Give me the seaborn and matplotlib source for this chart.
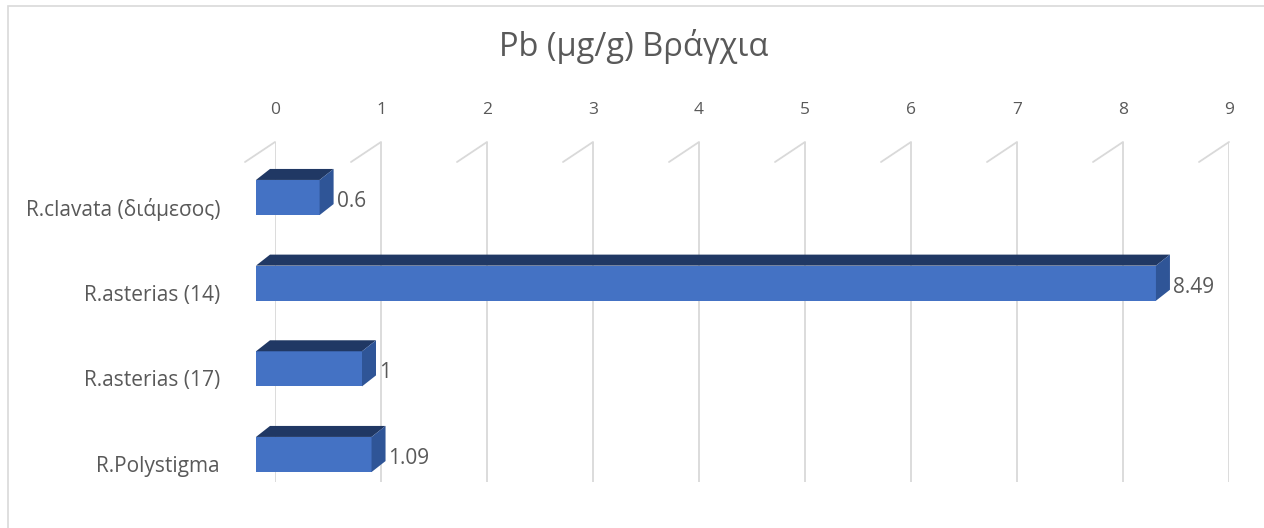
import matplotlib
matplotlib.use("Agg")
import matplotlib.pyplot as plt
import matplotlib.patches as mpatches
from matplotlib.transforms import Affine2D
import seaborn as sns
import pandas as pd
import numpy as np

# Lead (Pb) concentration in gills, per species / sample
species = ["R.clavata (διάμεσος)", "R.asterias (14)", "R.asterias (17)", "R.Polystigma"]
pb_values = [0.6, 8.49, 1, 1.09]
value_labels = ["0.6", "8.49", "1", "1.09"]
x_ticks = [0, 1, 2, 3, 4, 5, 6, 7, 8, 9]
title = "Pb (μg/g) Βράγχια"

FRONT = "#4472C4"
TOP = "#203864"
SIDE = "#2F5597"
GRID = "#D9D9D9"
TEXT = "#595959"

sns.set_theme(style="white")
plt.rcParams["font.family"] = ["Open Sans", "DejaVu Sans"]

W, H = 1264, 528
fig = plt.figure(figsize=(W / 100, H / 100), dpi=100)

# Axes box in pixels: back-wall x range and gridline vertical span
left_px, right_px, top_px, bottom_px = 275, 1229, 142, 482
ax = fig.add_axes([left_px / W, 1 - bottom_px / H,
                   (right_px - left_px) / W, (bottom_px - top_px) / H])

df = pd.DataFrame({"species": species, "pb": pb_values})
sns.barplot(data=df, y="species", x="pb", orient="h", color=FRONT,
            width=0.41, saturation=1, ax=ax, zorder=3, edgecolor="none")

ax.set_xlim(0, 9)
ax.set_ylim(3.321, -0.648)
ax.set_xticks(x_ticks)
ax.set_xticklabels([str(t) for t in x_ticks])
ax.xaxis.tick_top()
ax.tick_params(axis="x", length=0, pad=17, labelsize=12.5, labelcolor=TEXT)
ax.set_yticks([])
ax.set_xlabel("")
ax.set_ylabel("")
for s in ax.spines.values():
    s.set_visible(False)

# 3D offsets in pixels
shift_x = -19      # front faces sit in front of the back wall
depth_dx, depth_dy = 14, 11

to_disp = ax.transData
to_data = ax.transData.inverted()

# Gridlines on the back wall with the short floor stub at the top
for t in x_ticks:
    ax.axvline(t, color=GRID, lw=1.3, zorder=1)
    x0, y0 = to_disp.transform((t, ax.get_ylim()[1]))
    p1 = to_data.transform((x0, y0))
    p2 = to_data.transform((x0 - 30, y0 - 20))
    ax.plot([p1[0], p2[0]], [p1[1], p2[1]], color=GRID, lw=1.3, zorder=1,
            clip_on=False)

shift = Affine2D().translate(shift_x, 0)
for patch, lab in zip(ax.patches, value_labels):
    patch.set_transform(ax.transData + shift)
    patch.set_clip_on(False)
    x, y, w, h = patch.get_x(), patch.get_y(), patch.get_width(), patch.get_height()
    # display corners of the front face (top is smaller y in data, larger in pixels)
    (lx, ty) = to_disp.transform((x, y)) + np.array([shift_x, 0])
    (rx, by) = to_disp.transform((x + w, y + h)) + np.array([shift_x, 0])
    top_face = [(lx, ty), (rx, ty), (rx + depth_dx, ty + depth_dy), (lx + depth_dx, ty + depth_dy)]
    side_face = [(rx, ty), (rx, by), (rx + depth_dx, by + depth_dy), (rx + depth_dx, ty + depth_dy)]
    for pts, col in ((top_face, TOP), (side_face, SIDE)):
        poly = mpatches.Polygon(to_data.transform(pts), closed=True,
                                facecolor=col, edgecolor="none", zorder=3,
                                clip_on=False)
        ax.add_patch(poly)
    lab_pt = to_data.transform((rx + depth_dx + 3, (ty + by) / 2 - 4))
    ax.text(lab_pt[0], lab_pt[1], lab, ha="left", va="center", fontsize=15,
            color=TEXT, zorder=4, clip_on=False)

# Category labels, right-aligned left of the plot
x_lab_disp = to_disp.transform((0, 0))[0] - (left_px - 220)
for i, name in enumerate(species):
    _, yc = to_disp.transform((0, i))
    px = to_data.transform((x_lab_disp, yc - 12))
    ax.text(px[0], px[1], name, ha="right", va="center", fontsize=15,
            color=TEXT, clip_on=False)

fig.text(634 / W, 1 - 47 / H, title, ha="center", va="center",
         fontsize=23.5, color=TEXT)

# Chart area border
fig.patches.append(mpatches.Rectangle((8 / W, -0.05), 1.2, 1.05 - 6 / H,
                                      transform=fig.transFigure, fill=False,
                                      edgecolor=GRID, lw=1.2))

fig.savefig("out.png", dpi=100)
